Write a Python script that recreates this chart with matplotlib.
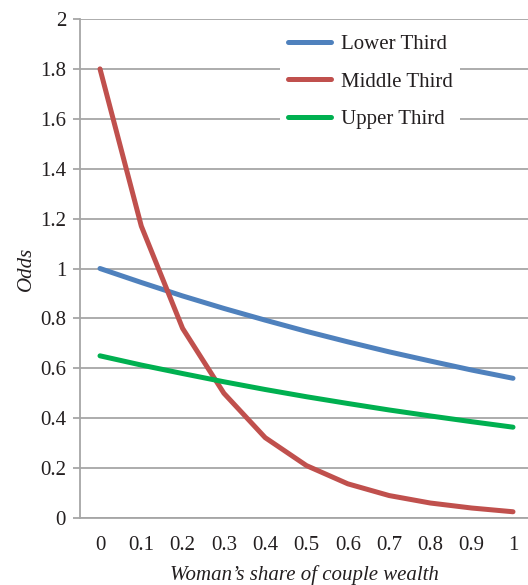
import numpy as np
import matplotlib.pyplot as plt

plt.rcParams['font.family'] = ['Liberation Serif', 'DejaVu Serif']

share = [0, 0.1, 0.2, 0.3, 0.4, 0.5, 0.6, 0.7, 0.8, 0.9, 1]
lower = [1.0, 0.944, 0.890, 0.840, 0.793, 0.748, 0.706, 0.666, 0.629, 0.593, 0.56]
middle = [1.8, 1.17, 0.76, 0.50, 0.322, 0.21, 0.137, 0.09, 0.06, 0.04, 0.025]
upper = [0.65, 0.613, 0.579, 0.546, 0.515, 0.486, 0.459, 0.433, 0.409, 0.386, 0.364]

xticklabels = ['0', '0.1', '0.2', '0.3', '0.4', '0.5', '0.6', '0.7', '0.8', '0.9', '1']
yticks = [0, 0.2, 0.4, 0.6, 0.8, 1, 1.2, 1.4, 1.6, 1.8, 2]
yticklabels = ['0', '0.2', '0.4', '0.6', '0.8', '1', '1.2', '1.4', '1.6', '1.8', '2']

gc = '#a6a6a6'
fnt = 15

fig = plt.figure(figsize=(5.28, 5.85), dpi=100)
ax = fig.add_axes([80/528, 1-518/585, 1-80/528, (518-19)/585])

ax.plot(share, lower, c='#4f81bd', lw=3.6, label='Lower Third', solid_capstyle='round')
ax.plot(share, middle, c='#c0504d', lw=3.6, label='Middle Third', solid_capstyle='round')
ax.plot(share, upper, c='#00b050', lw=3.6, label='Upper Third', solid_capstyle='round')

ax.set_xlim(-20/413, 1+15/413)
ax.set_ylim(0, 2)
ax.set_xticks(share)
ax.set_xticklabels(xticklabels)
ax.set_yticks(yticks)
ax.set_yticklabels(yticklabels)
ax.grid(axis='y', color=gc, lw=1.3)
ax.set_axisbelow(True)

for s in ['top', 'right']:
    ax.spines[s].set_visible(False)
ax.spines['left'].set_color(gc)
ax.spines['bottom'].set_color(gc)
ax.spines['left'].set_linewidth(1.3)
ax.spines['bottom'].set_linewidth(1.3)
ax.tick_params(axis='y', colors=gc, labelcolor='#231f20', length=5, width=1.3, pad=5, labelsize=fnt)
ax.tick_params(axis='x', length=0, pad=13, labelcolor='#231f20', labelsize=fnt)

ax.set_xlabel('Woman\u2019s share of couple wealth', fontstyle='italic', fontsize=fnt, color='#231f20', labelpad=7)
ax.set_ylabel('Odds', fontstyle='italic', fontsize=fnt, color='#231f20', labelpad=3)

leg = ax.legend(loc='center', bbox_to_anchor=(370/528, 1-82/585), bbox_transform=fig.transFigure,
                fontsize=fnt, frameon=True, fancybox=False, framealpha=1, edgecolor='none',
                handlelength=2.1, handletextpad=0.45, labelspacing=0.85, borderpad=0.35)
leg.get_frame().set_facecolor('white')
for t in leg.get_texts():
    t.set_color('#231f20')

plt.savefig('out.png', dpi=100)
